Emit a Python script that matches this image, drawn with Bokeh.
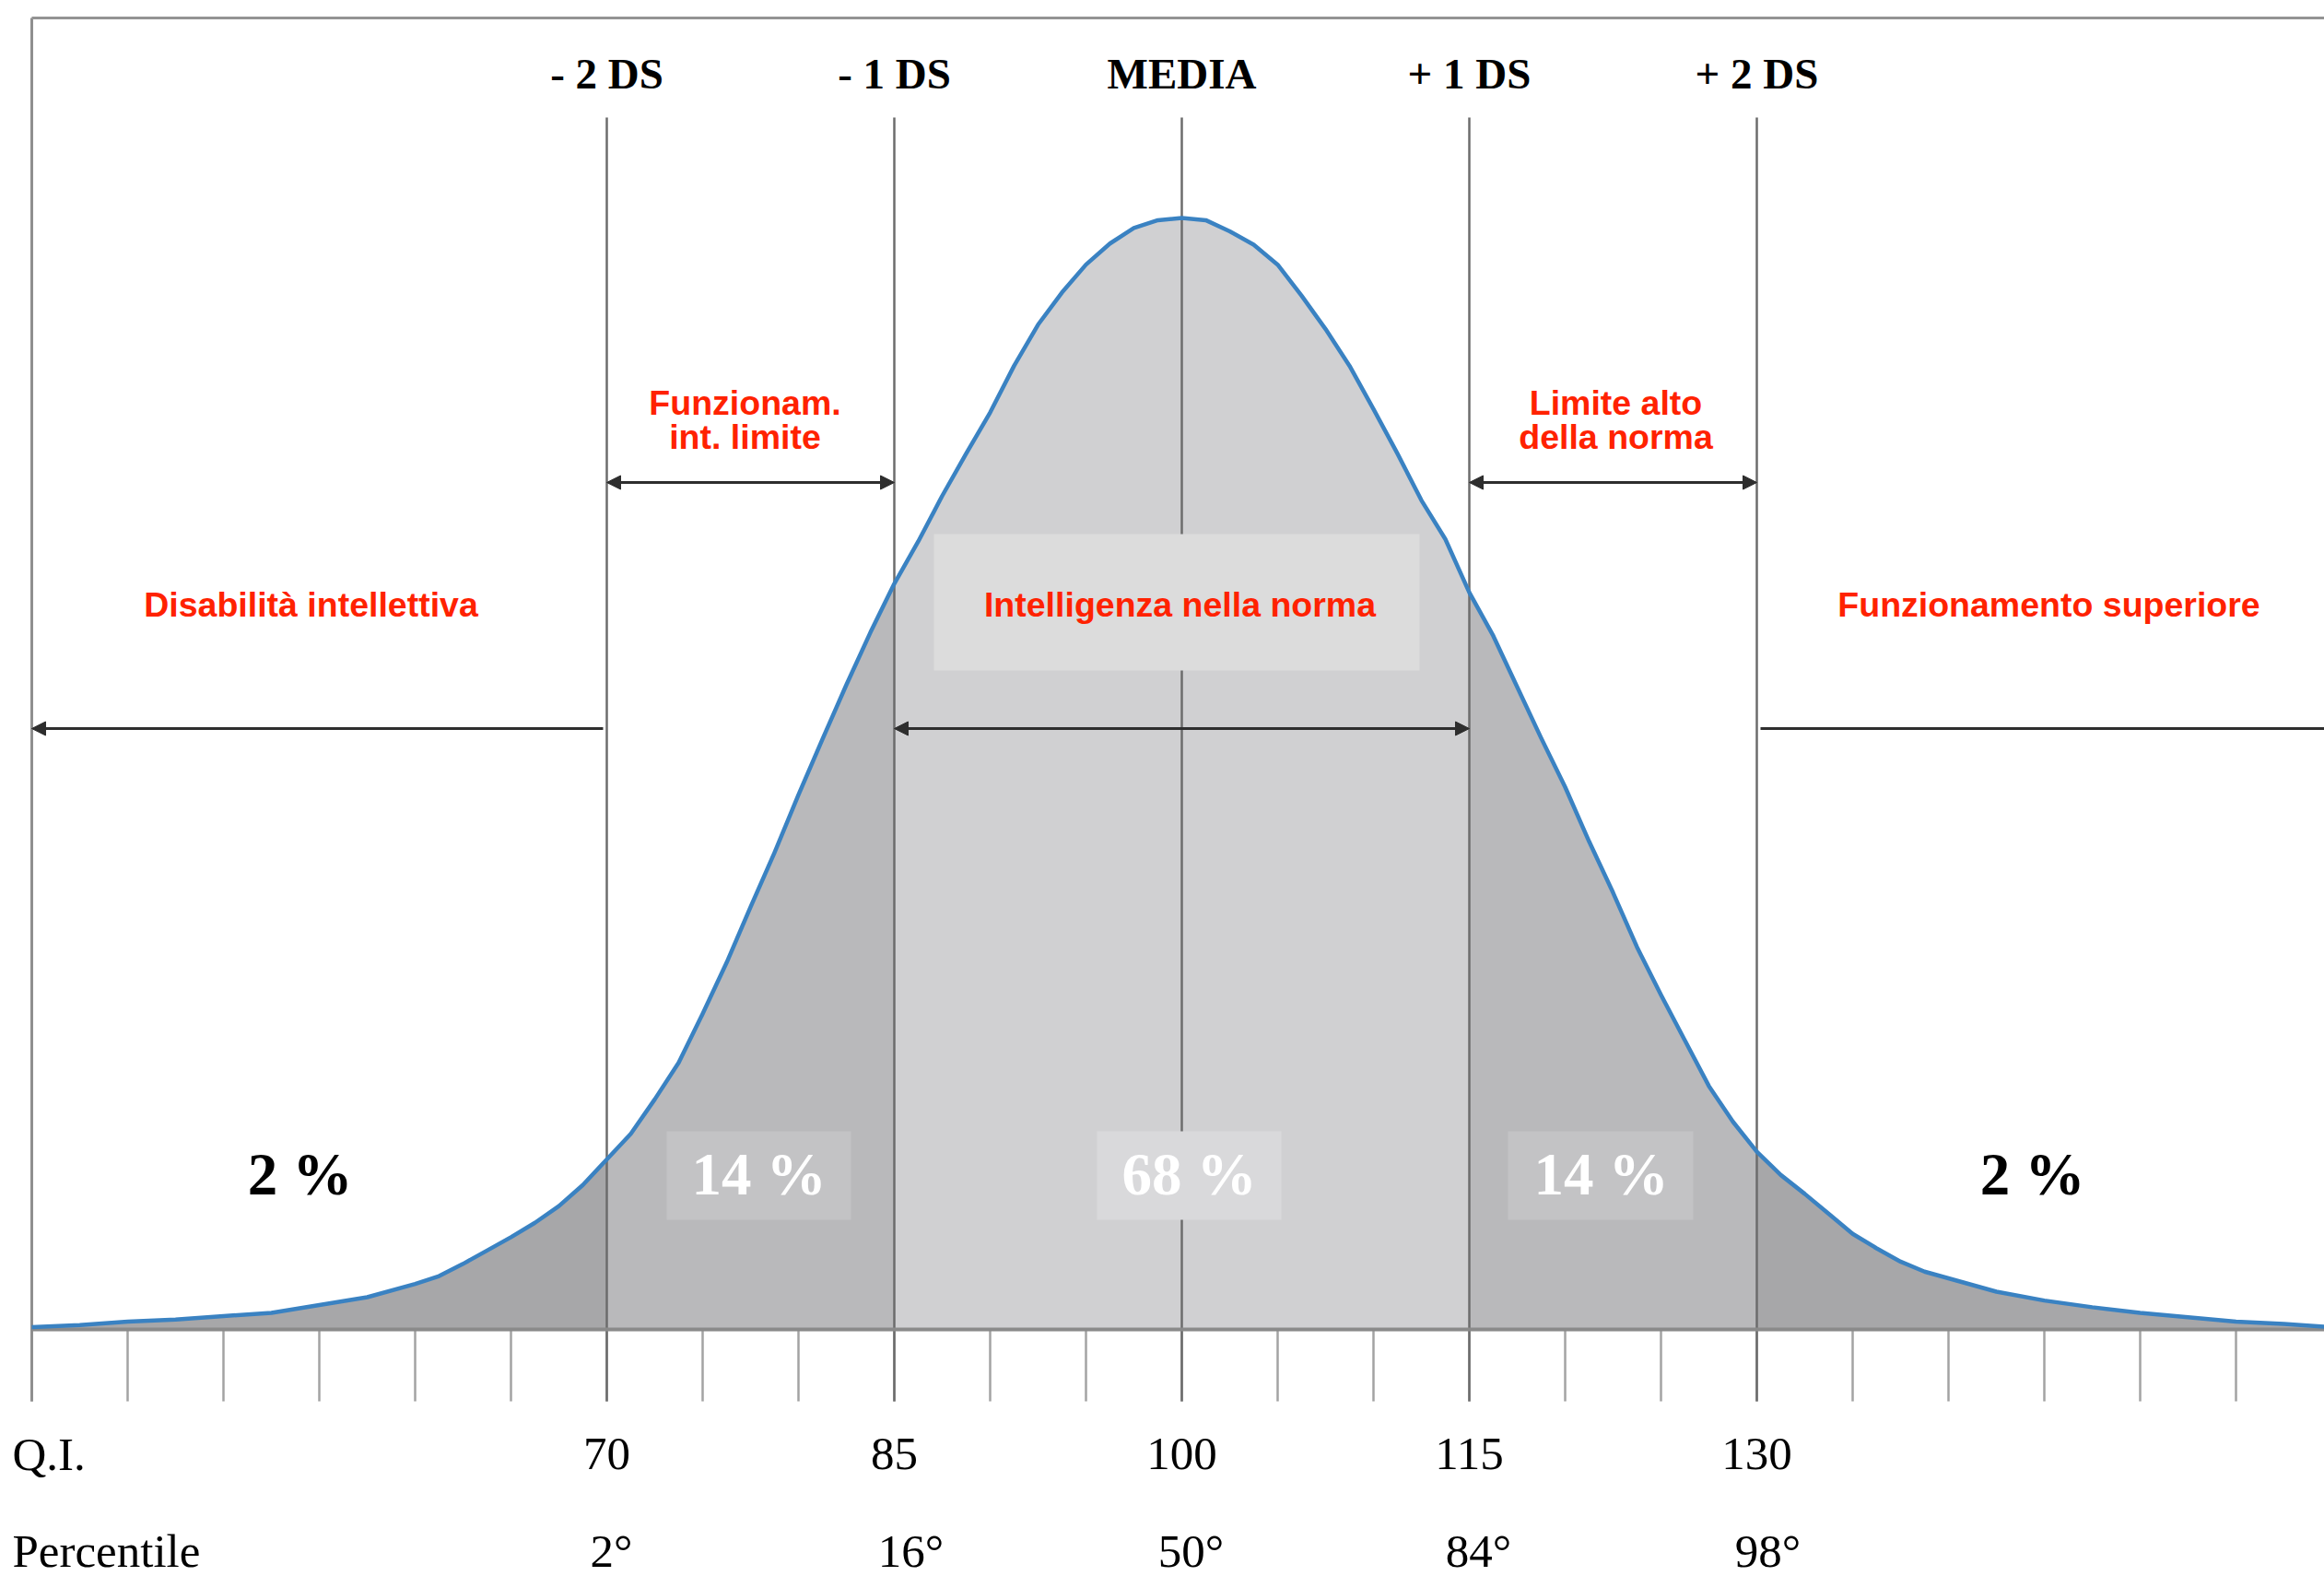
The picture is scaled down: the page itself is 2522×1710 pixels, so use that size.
from bokeh.plotting import figure
from bokeh.models import Range1d, Arrow, NormalHead
from bokeh.core.properties import value
from bokeh.embed import file_html
from bokeh.resources import INLINE

# ---------------- data ----------------
IQ = [40, 42.5, 45, 47.5, 50, 52.5, 55, 57.5,
      60, 61.25, 62.5, 63.75, 65, 66.25, 67.5, 68.75, 70, 71.25, 72.5, 73.75,
      75, 76.25, 77.5, 78.75, 80, 81.25, 82.5, 83.75, 85, 86.25, 87.5, 88.75,
      90, 91.25, 92.5, 93.75, 95, 96.25, 97.5, 98.75, 100, 101.25, 102.5, 103.75,
      105, 106.25, 107.5, 108.75, 110, 111.25, 112.5, 113.75, 115, 116.25, 117.5, 118.75,
      120, 121.25, 122.5, 123.75, 125, 126.25, 127.5, 128.75, 130, 131.25, 132.5, 133.75,
      135, 136.25, 137.5, 138.75, 140,
      142.5, 145, 147.5, 150, 152.5, 155, 157.5, 160]
# relative frequency, % of the peak
FREQ = [0.2, 0.4, 0.7, 0.9, 1.2, 1.5, 2.2, 2.9,
        4.1, 4.8, 5.9, 7.1, 8.3, 9.6, 11.1, 13.0, 15.3, 17.6, 20.7, 24.0,
        28.4, 33.0, 38.0, 42.9, 48.1, 53.1, 58.0, 62.7, 67.1, 70.9, 75.0, 78.8,
        82.5, 86.7, 90.4, 93.3, 95.8, 97.7, 99.1, 99.8, 100.0, 99.8, 98.8, 97.6,
        95.8, 93.0, 90.0, 86.7, 82.8, 78.8, 74.6, 71.1, 66.3, 62.4, 57.8, 53.2,
        48.8, 43.9, 39.3, 34.4, 30.1, 26.0, 21.9, 18.7, 16.0, 13.9, 12.2, 10.4,
        8.6, 7.3, 6.1, 5.2, 4.6,
        3.4, 2.6, 2.0, 1.5, 1.1, 0.7, 0.5, 0.2]

SD_BOUNDS = [70, 85, 100, 115, 130]
SD_LABELS = ["- 2 DS", "- 1 DS", "MEDIA", "+ 1 DS", "+ 2 DS"]
QI_LABELS = ["70", "85", "100", "115", "130"]
PERCENTILE_LABELS = ["2°", "16°", "50°", "84°", "98°"]
PERCENT_LABELS = ["2 %", "14 %", "68 %", "14 %", "2 %"]
CATEGORY_LABELS = ["Disabilità intellettiva", "Funzionam.\nint. limite",
                   "Intelligenza nella norma", "Limite alto\ndella norma",
                   "Funzionamento superiore"]
TICK_VALUES = [40, 45, 50, 55, 60, 65, 70, 75, 80, 85, 90, 95, 100, 105, 110, 115,
               120, 125, 130, 135, 140, 145, 150, 155, 160]
ROW_TITLES = ["Q.I.", "Percentile"]

# ---------------- layout ----------------
W, H = 2522, 1710
OX, OY = 0, 0          # where the figure's top-left corner lands in the picture
PX_PER_IQ = 20.8
PX_PER_UNIT = 12.06
X100_PAGE = 1282
BASE_PAGE = 1442


def dx(page_x):
    return 100 + (page_x - X100_PAGE) / PX_PER_IQ


def dy(page_y):
    return (BASE_PAGE - page_y) / PX_PER_UNIT


def ty(page_baseline, fs):
    # anchor for a text whose alphabetic baseline should sit at page_baseline
    return dy(page_baseline - 0.37 * fs)


p = figure(width=W, height=H, output_backend="svg", toolbar_location=None,
           x_range=Range1d(dx(OX), dx(OX + W)), y_range=Range1d(dy(OY + H), dy(OY)),
           min_border=0)
p.axis.visible = False
p.grid.visible = False
p.outline_line_color = None
p.background_fill_color = "white"
p.border_fill_color = "white"

# region fills
REGION_COLORS = ["#a7a7a9", "#b9b9bb", "#d0d0d2", "#b9b9bb", "#a7a7a9"]
edges = [IQ[0], SD_BOUNDS[0], SD_BOUNDS[1], SD_BOUNDS[3], SD_BOUNDS[4], IQ[-1]]
for k in range(5):
    lo, hi = edges[k], edges[k + 1]
    xs = [x for x in IQ if lo <= x <= hi]
    ys = [f for x, f in zip(IQ, FREQ) if lo <= x <= hi]
    p.varea(x=xs, y1=[0] * len(xs), y2=ys, fill_color=REGION_COLORS[k])

# ticks below the baseline
tick_bottom = dy(1520)
p.segment(x0=TICK_VALUES, x1=TICK_VALUES, y0=[0] * len(TICK_VALUES),
          y1=[tick_bottom] * len(TICK_VALUES), line_color="#a3a3a3", line_width=2.5)

# frame: left border and top border
top_y = dy(19)
p.segment(x0=[IQ[0]], x1=[IQ[0]], y0=[top_y], y1=[tick_bottom], line_color="#8f8f8f", line_width=3)
p.segment(x0=[IQ[0]], x1=[dx(2540)], y0=[top_y], y1=[top_y], line_color="#939393", line_width=3)

# vertical SD lines
p.segment(x0=SD_BOUNDS, x1=SD_BOUNDS, y0=[dy(127)] * 5, y1=[tick_bottom] * 5,
          line_color="#6c6c6c", line_width=2.5)

# baseline
p.segment(x0=[IQ[0]], x1=[IQ[-1]], y0=[0], y1=[0], line_color="#8a8a8a", line_width=4)

# curve
p.line(IQ, FREQ, line_color="#3a82c2", line_width=4.5, line_join="round")

# boxes behind labels
p.quad(left=[dx(1013)], right=[dx(1540)], bottom=[dy(727)], top=[dy(579)],
       fill_color="#dcdcdc", line_color=None)
box_l = [dx(723), dx(1190), dx(1636)]
box_r = [dx(923), dx(1390), dx(1837)]
box_c = ["#c3c3c5", "#d9d9db", "#c3c3c5"]
p.quad(left=box_l, right=box_r, bottom=[dy(1323)] * 3, top=[dy(1227)] * 3,
       fill_color=box_c, line_color=None)

# header labels
FS_HEAD = 47
p.text(x=SD_BOUNDS, y=[ty(97, FS_HEAD)] * 5, text=SD_LABELS, text_font=value("Liberation Serif"),
       text_font_style="bold", text_font_size=f"{FS_HEAD}px", text_align="center",
       text_baseline="alphabetic", text_color="black")

# percentages
FS_PCT = 65
pct_x = [dx(325), dx(823), dx(1290), dx(1737), dx(2205)]
pct_col = ["black", "white", "white", "white", "black"]
p.text(x=pct_x, y=[ty(1298, FS_PCT)] * 5, text=PERCENT_LABELS, text_font=value("Liberation Serif"),
       text_font_style="bold", text_font_size=f"{FS_PCT}px", text_align="center",
       text_baseline="alphabetic", text_color=pct_col)

# red category labels
RED = "#ff2200"
FS_RED = 37.5
cat_x = [dx(337), dx(808), dx(1280), dx(1753), dx(2223)]
lx, ly, lt = [], [], []
for cx, lab in zip(cat_x, CATEGORY_LABELS):
    lines = lab.split("\n")
    if len(lines) == 1:
        lx.append(cx); ly.append(ty(669, FS_RED)); lt.append(lines[0])
    else:
        for i, ln in enumerate(lines):
            lx.append(cx); ly.append(ty(450 + 37 * i, FS_RED)); lt.append(ln)
p.text(x=lx, y=ly, text=lt, text_font=value("Liberation Sans"), text_font_style="bold",
       text_font_size=f"{FS_RED}px", text_align="center", text_baseline="alphabetic",
       text_color=RED)

# arrows
AC = "#2e2e2e"


def head():
    return NormalHead(size=15, fill_color=AC, line_color=AC)


y_up, y_low = dy(523), dy(790)
for a, b in [(SD_BOUNDS[0], SD_BOUNDS[1]), (SD_BOUNDS[3], SD_BOUNDS[4])]:
    p.add_layout(Arrow(x_start=a, x_end=b, y_start=y_up, y_end=y_up, start=head(), end=head(),
                       line_color=AC, line_width=3))
p.add_layout(Arrow(x_start=SD_BOUNDS[1], x_end=SD_BOUNDS[3], y_start=y_low, y_end=y_low,
                   start=head(), end=head(), line_color=AC, line_width=3))
p.add_layout(Arrow(x_start=dx(654), x_end=IQ[0], y_start=y_low, y_end=y_low,
                   start=None, end=head(), line_color=AC, line_width=3))
p.add_layout(Arrow(x_start=dx(1910), x_end=IQ[-1], y_start=y_low, y_end=y_low,
                   start=None, end=None, line_color=AC, line_width=3))

# bottom rows
FS_BOT = 51
row1, row2 = ty(1596, FS_BOT), ty(1701, FS_BOT)
p.text(x=[dx(13)] * 2, y=[row1, row2], text=ROW_TITLES, text_font=value("Liberation Serif"),
       text_font_size=f"{FS_BOT}px", text_align="left", text_baseline="alphabetic", text_color="black")
p.text(x=SD_BOUNDS, y=[row1] * 5, text=QI_LABELS, text_font=value("Liberation Serif"),
       text_font_size=f"{FS_BOT}px", text_align="center", text_baseline="alphabetic", text_color="black")
p.text(x=SD_BOUNDS, y=[row2] * 5, text=PERCENTILE_LABELS, text_font=value("Liberation Serif"),
       text_font_size=f"{FS_BOT}px", text_align="center", text_baseline="alphabetic", text_color="black",
       x_offset=[5, 18, 10, 10, 12])

open("out.html", "w").write(file_html(p, INLINE))
